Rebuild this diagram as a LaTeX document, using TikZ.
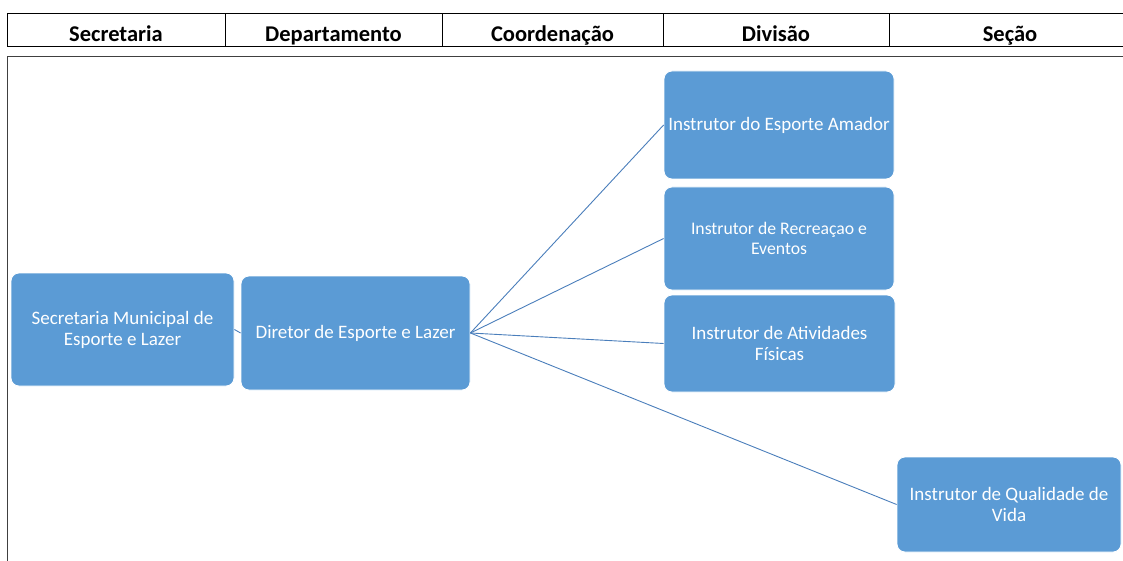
\documentclass[tikz,border=0pt]{standalone}
\usepackage{fontspec}
\setmainfont{Carlito}
\definecolor{boxblue}{HTML}{5B9BD5}
\definecolor{linkblue}{HTML}{4A7EBB}
\definecolor{framegray}{HTML}{404040}
\tikzset{
  orgbox/.style={draw=white, line width=0.8pt, fill=boxblue, rounded corners=8pt, text=white, align=center, inner sep=0pt, font=\fontsize{19}{21}\selectfont},
  headcell/.style={font=\bfseries\fontsize{22.5}{26}\selectfont, inner sep=0pt, anchor=base},
  link/.style={draw=linkblue, line width=0.9pt},
  rule/.style={draw=black, line width=1pt}
}
\begin{document}
\begin{tikzpicture}[x=1pt,y=-1pt]
\useasboundingbox (0,0) rectangle (1123,561);
% header table
\draw[rule] (7,14) rectangle (1130,47);
\foreach \xx in {225,442,663,889} \draw[rule] (\xx,14) -- (\xx,47);
\node[headcell] (h1) at (116,41.5) {Secretaria};
\node[headcell] (h2) at (333.5,41.5) {Departamento};
\node[headcell] (h3) at (552.5,41.5) {Coordenação};
\node[headcell] (h4) at (776,41.5) {Divisão};
\node[headcell] (h5) at (1010,41.5) {Seção};
% frame
\draw[draw=framegray, line width=1pt] (1130,57) -- (7,57) -- (7,570);
% boxes
\node[orgbox, minimum width=223pt, minimum height=113pt] (sec) at (122.5,329.5) {Secretaria Municipal de\\Esporte e Lazer};
\node[orgbox, minimum width=229pt, minimum height=114pt] (dir) at (355.5,333) {Diretor de Esporte e Lazer};
\node[orgbox, minimum width=230pt, minimum height=108pt] (a) at (779,125) {Instrutor do Esporte Amador};
\node[orgbox, minimum width=230pt, minimum height=103pt, font=\fontsize{17.7}{19.5}\selectfont] (b) at (779,238.5) {Instrutor de Recreaçao e\\Eventos};
\node[orgbox, minimum width=231pt, minimum height=97pt] (c) at (779.5,343.5) {Instrutor de Atividades\\Físicas};
\node[orgbox, minimum width=224pt, minimum height=95pt] (d) at (1009,504.5) {Instrutor de Qualidade de\\Vida};
% connectors
\draw[link] (sec.east) -- (dir.west);
\draw[link] (dir.east) -- (a.west);
\draw[link] (dir.east) -- (b.west);
\draw[link] (dir.east) -- (c.west);
\draw[link] (dir.east) -- (d.west);
\end{tikzpicture}
\end{document}
